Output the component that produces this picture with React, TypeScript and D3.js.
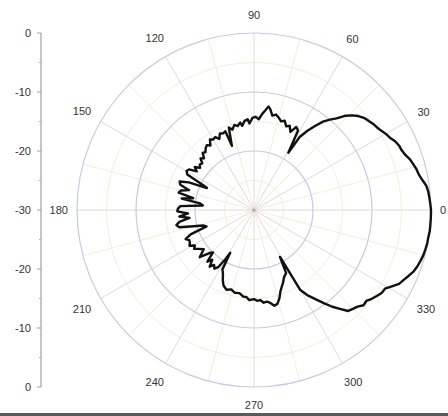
import React from "react";
import * as d3 from "d3";

// Radial (dB) axis ticks
const radialTicks = [-30, -20, -10, 0];
const radialMinorTicks = [-25, -15, -5];
const leftAxisTopTicks = [0, -10, -20, -30];
const angleTicks = [0, 30, 60, 90, 120, 150, 180, 210, 240, 270, 300, 330];

// Main (front) lobe: [angle in degrees, gain in dB]
const mainLobe: [number, number][] = [
  [300, -14.4], [302, -13.0], [305, -11.4], [307, -10.2], [309, -8.9], [311, -7.8], [313, -6.6],
  [315, -6.3], [317, -6.0], [319, -5.4], [321, -5.5], [323, -5.0], [325, -4.6], [327, -4.2],
  [329, -4.1], [331, -3.3], [333, -2.4], [335, -2.0], [337, -1.5], [339, -1.0], [341, -0.7],
  [343, -0.5], [345, -0.3], [347, -0.2], [349, -0.1], [351, -0.1], [353, 0], [355, 0], [357, 0], [359, 0],
  [360, 0], [362, -0.1], [364, -0.2], [366, -0.3], [368, -0.5], [370, -1.0], [372, -1.4], [374, -1.6],
  [376, -1.9], [378, -2.2], [380, -2.7], [382, -3.0], [384, -3.1], [386, -3.4], [388, -3.9],
  [390, -4.2], [392, -4.6], [394, -4.9], [396, -5.1], [398, -5.4], [400, -5.7], [402, -6.2],
  [404, -6.9], [406, -7.8], [408, -9.1], [410, -10.0], [412, -11.0], [414, -12.4], [416, -13.8],
  [418, -15.4], [419, -18.7],
];

// Back lobe: [angle in degrees, gain in dB]
const backLobe: [number, number][] = [
  [61, -14.6], [63, -14.2], [65, -15.4], [67, -14.5], [69, -14.8], [71, -14.0], [73, -14.3],
  [75, -13.8], [77, -13.4], [79, -13.7], [81, -12.6], [82, -12.3], [84, -13.2], [85, -13.6],
  [87, -14.6], [89, -14.2], [91, -14.4], [93, -15.3], [94, -14.6], [96, -14.8], [98, -15.6],
  [99, -15.0], [101, -15.5], [103, -15.2], [105, -15.9], [107, -15.4], [109, -18.5], [110, -15.8],
  [112, -16.0], [114, -15.8], [116, -16.6], [118, -16.0], [120, -16.2], [122, -15.9], [124, -16.8],
  [126, -16.4], [128, -16.7], [130, -17.2], [132, -17.0], [134, -17.8], [136, -17.4], [138, -18.2],
  [140, -18.0], [142, -18.4], [144, -17.6], [146, -18.3], [148, -17.0], [150, -16.8], [152, -17.2],
  [154, -20.5], [155, -21.2], [157, -18.0], [159, -16.5], [161, -16.8], [163, -18.5], [165, -17.2],
  [167, -16.9], [169, -19.5], [171, -17.6], [173, -20.8], [175, -21.3], [177, -17.5], [179, -17.1],
  [181, -17.0], [183, -18.8], [185, -17.3], [187, -19.0], [189, -17.2], [191, -16.6], [193, -17.0],
  [195, -19.4], [197, -21.0], [199, -21.5], [201, -18.5], [203, -17.4], [205, -17.9], [207, -17.8],
  [209, -17.5], [211, -18.3], [213, -17.9], [215, -18.5], [218, -19.2], [221, -17.8], [224, -19.5],
  [226, -20.0], [228, -18.2], [230, -19.0], [232, -17.8], [234, -18.5], [236, -18.0], [238, -18.6],
  [240, -20.5], [241, -21.7], [242, -18.6], [244, -18.0], [246, -17.0], [248, -16.2], [251, -15.7],
  [254, -16.0], [257, -15.6], [260, -15.7], [263, -15.2], [265, -15.2], [267, -14.7], [270, -14.9],
  [272, -14.6], [274, -14.7], [276, -14.2], [278, -14.3], [280, -14.0], [282, -13.4], [284, -13.6],
  [286, -14.4], [288, -15.5], [290, -16.2], [292, -16.8], [294, -17.5], [297, -18.0], [299, -20.9],
];

const W = 448;
const H = 416;
const cx = 254;
const cy = 210;
const R = 177;

export default function App() {
  const r = d3.scaleLinear().domain([-30, 0]).range([0, R]).clamp(true);
  const yTop = d3.scaleLinear().domain([-30, 0]).range([cy, cy - R]);
  const yBot = d3.scaleLinear().domain([-30, 0]).range([cy, cy + R]);
  const toRad = (deg: number) => (deg * Math.PI) / 180;

  const pts = [...backLobe, ...mainLobe];
  const line = d3
    .lineRadial<[number, number]>()
    .angle((d) => Math.PI / 2 - toRad(d[0]))
    .radius((d) => r(d[1]))
    .curve(d3.curveLinearClosed);

  const minorSpokes = d3.range(15, 360, 30);
  const axisX = 41;

  const labelPos = (a: number) => {
    const t = String(a);
    const w = t.length * 6.2;
    const c = Math.cos(toRad(a));
    const s = Math.sin(toRad(a));
    const rr = 186 + Math.abs(c) * (w / 2) + Math.abs(s) * 9;
    return { x: cx + rr * c, y: cy - rr * s };
  };

  const leftTicks = [
    ...leftAxisTopTicks.map((v) => ({ v, y: yTop(v) })),
    ...leftAxisTopTicks.filter((v) => v !== -30).map((v) => ({ v, y: yBot(v) })),
  ];
  const leftMinor = [
    ...radialMinorTicks.map((v) => yTop(v)),
    ...radialMinorTicks.map((v) => yBot(v)),
  ];

  return (
    <svg
      width={W}
      height={H}
      style={{ position: "absolute", left: 0, top: 0, background: "#fff" }}
      fontFamily="Liberation Sans, Arial, sans-serif"
    >
      <rect x={0} y={0} width={W} height={H} fill="#fff" />
      {/* minor grid */}
      {radialMinorTicks.map((v) => (
        <circle key={"mc" + v} cx={cx} cy={cy} r={r(v)} fill="none" stroke="#f1f0d6" strokeWidth={1} />
      ))}
      {minorSpokes.map((a) => (
        <line
          key={"ms" + a}
          x1={cx}
          y1={cy}
          x2={cx + R * Math.cos(toRad(a))}
          y2={cy - R * Math.sin(toRad(a))}
          stroke="#f1f0d6"
          strokeWidth={1}
        />
      ))}
      {/* major spokes */}
      {angleTicks.map((a) => (
        <line
          key={"s" + a}
          x1={cx}
          y1={cy}
          x2={cx + R * Math.cos(toRad(a))}
          y2={cy - R * Math.sin(toRad(a))}
          stroke="#dadada"
          strokeWidth={1}
        />
      ))}
      {/* major circles */}
      {radialTicks
        .filter((v) => v > -30)
        .map((v) => (
          <circle key={"c" + v} cx={cx} cy={cy} r={r(v)} fill="none" stroke="#c9c9e4" strokeWidth={1.2} />
        ))}
      <circle cx={cx} cy={cy} r={1.6} fill="#aaa" />
      {/* angle labels */}
      {angleTicks.map((a) => {
        const p = labelPos(a);
        return (
          <text key={"al" + a} x={p.x} y={p.y} dy="0.35em" textAnchor="middle" fontSize={11} fill="#333">
            {a}
          </text>
        );
      })}
      {/* pattern */}
      <path d={line(pts) ?? ""} transform={`translate(${cx},${cy})`} fill="none" stroke="#111" strokeWidth={2.4} strokeLinejoin="round" />
      {/* left radial axis */}
      <line x1={axisX} y1={yTop(0)} x2={axisX} y2={yBot(0)} stroke="#a0a0a0" strokeWidth={1.2} />
      {leftTicks.map((t, i) => (
        <g key={"lt" + i}>
          <line x1={axisX - 4} x2={axisX} y1={t.y} y2={t.y} stroke="#a0a0a0" strokeWidth={1} />
          <text x={31} y={t.y} dy="0.35em" textAnchor="end" fontSize={11} fill="#333">
            {t.v}
          </text>
        </g>
      ))}
      {leftMinor.map((y, i) => (
        <line key={"lm" + i} x1={axisX - 2} x2={axisX} y1={y} y2={y} stroke="#b0b0b0" strokeWidth={1} />
      ))}
      <rect x={0} y={413} width={W} height={3} fill="#5a5a5a" />
    </svg>
  );
}
